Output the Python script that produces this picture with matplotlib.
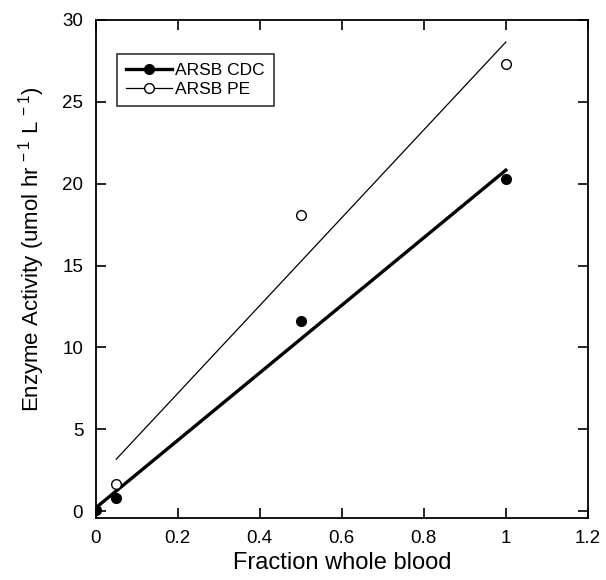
import numpy as np
import matplotlib.pyplot as plt
from matplotlib.lines import Line2D

plt.rcParams['font.family'] = ['Liberation Sans', 'DejaVu Sans']
plt.rcParams['mathtext.default'] = 'regular'

# fraction of whole blood in the sample
cdc_x = [0.0, 0.05, 0.5, 1.0]
cdc_y = [0.1, 0.8, 11.6, 20.3]

pe_x = [0.05, 0.5, 1.0]
pe_y = [1.7, 18.06, 27.3]

fig = plt.figure(figsize=(6.06, 5.8), dpi=100)
ax = fig.add_axes([0.158, 0.107, 0.812, 0.859])

# linear fits over each data range
cdc_fit = np.polyfit(cdc_x, cdc_y, 1)
pe_fit = np.polyfit(pe_x, pe_y, 1)
xs_cdc = np.array([min(cdc_x), max(cdc_x)])
xs_pe = np.array([min(pe_x), max(pe_x)])
ax.plot(xs_cdc, np.polyval(cdc_fit, xs_cdc), color='black', lw=2.4, zorder=2)
ax.plot(xs_pe, np.polyval(pe_fit, xs_pe), color='black', lw=0.9, zorder=2)

ax.plot(cdc_x, cdc_y, 'o', color='black', ms=7, zorder=3)
ax.plot(pe_x, pe_y, 'o', mfc='white', mec='black', mew=1, ms=7, zorder=3)

ax.set_xlim(0, 1.2)
ax.set_ylim(-0.4, 30)
ax.set_xticks([0, 0.2, 0.4, 0.6, 0.8, 1.0, 1.2])
ax.set_xticklabels(['0', '0.2', '0.4', '0.6', '0.8', '1', '1.2'])
ax.set_yticks([0, 5, 10, 15, 20, 25, 30])
ax.tick_params(direction='in', top=True, right=True, length=7, width=1.2,
               labelsize=13.5, pad=9, colors='black')
for s in ax.spines.values():
    s.set_linewidth(1.3)

ax.set_xlabel('Fraction whole blood', fontsize=17, labelpad=3)
ax.set_ylabel('Enzyme Activity (umol hr$^{\\,-1}$ L$^{\\,-1}$)', fontsize=16)
ax.yaxis.set_label_coords(-0.1, 0.54)

handles = [
    Line2D([], [], color='black', lw=2.4, marker='o', ms=7),
    Line2D([], [], color='black', lw=0.9, marker='o', mfc='white', mec='black', ms=7),
]
leg = ax.legend(handles, ['ARSB CDC', 'ARSB PE'], loc='upper left',
                bbox_to_anchor=(0.043, 0.932), borderaxespad=0, fontsize=12.5,
                frameon=True, fancybox=False, edgecolor='black', handlelength=2.6,
                handletextpad=0.2, borderpad=0.55, labelspacing=0.2)
leg.get_frame().set_linewidth(1.2)

fig.savefig('out.png', dpi=100)
